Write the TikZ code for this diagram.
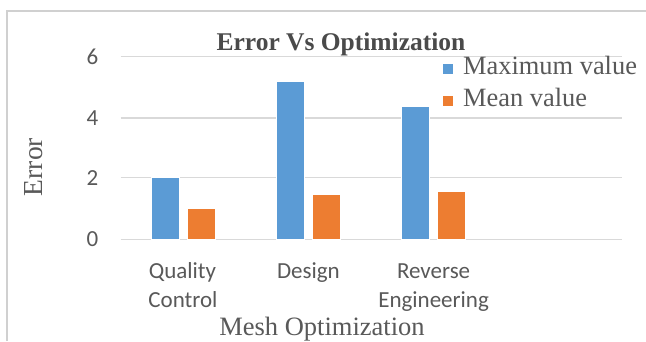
\documentclass[tikz,border=0pt]{standalone}
\usepackage{fontspec}
\setmainfont{Liberation Serif}
\newfontfamily\calib{Carlito}
\definecolor{barblue}{HTML}{5B9BD5}
\definecolor{barorange}{HTML}{ED7D31}
\definecolor{gridgray}{HTML}{D9D9D9}
\definecolor{txtgray}{HTML}{595959}
\definecolor{ttlgray}{HTML}{4A4A4A}
\definecolor{framegray}{HTML}{D0D0D0}
\tikzset{
  gridline/.style={draw=gridgray, line width=1.2pt},
  bar/.style={draw=white, line width=0.5pt},
  tick/.style={inner sep=0pt, text=txtgray, font=\calib\fontsize{23}{26}\selectfont},
  cat/.style={inner sep=0pt, anchor=base, text=txtgray, font=\calib\fontsize{23}{26}\selectfont},
  serif/.style={inner sep=0pt, anchor=base, text=txtgray, font=\fontsize{26.5}{30}\selectfont},
  legkey/.style={minimum size=10pt, inner sep=0pt},
}
\begin{document}
\begin{tikzpicture}[x=1pt, y=-1pt]
\useasboundingbox (0,0) rectangle (646,341);
\fill[white] (0,0) rectangle (646,341);
% frame
\draw[framegray, line width=2pt] (6.5,341) -- (6.5,10.5) -- (646,10.5);
% gridlines
\foreach \v/\yy in {0/239.3, 2/177.8, 4/118, 6/56.7} {
  \draw[gridline] (120.5,\yy) -- (621.5,\yy);
  \node[tick, anchor=east] (t\v) at (98.5,\yy) {\v};
}
% bars
\filldraw[bar, fill=barblue] (151.1,239.3) rectangle (179.1,177.3);
\filldraw[bar, fill=barorange] (187.1,239.3) rectangle (215.1,208.3);
\filldraw[bar, fill=barblue] (276.4,239.3) rectangle (304.4,81);
\filldraw[bar, fill=barorange] (312.4,239.3) rectangle (340.4,194);
\filldraw[bar, fill=barblue] (401.6,239.3) rectangle (429.6,106.7);
\filldraw[bar, fill=barorange] (437.6,239.3) rectangle (465.6,191.7);
% category labels
\node[cat] (c1a) at (182.5,278) {Quality};
\node[cat] (c1b) at (183,307) {Control};
\node[cat] (c2) at (308.4,278) {Design};
\node[cat] (c3a) at (433.6,278) {Reverse};
\node[cat] (c3b) at (433.6,307) {Engineering};
% titles
\node[serif, text=ttlgray, font=\bfseries\fontsize{25.5}{30}\selectfont] (title) at (341,50) {Error Vs Optimization};
\node[serif] (xt) at (322,335) {Mesh Optimization};
\node[inner sep=0pt, text=txtgray, font=\fontsize{27.5}{30}\selectfont, rotate=90] (yt) at (34,167) {Error};
% legend
\node[legkey, fill=barblue] (k1) at (448,69) {};
\node[serif, anchor=base west, font=\fontsize{26.4}{30}\selectfont] (l1) at (463,74) {Maximum value};
\node[legkey, fill=barorange] (k2) at (448,100.5) {};
\node[serif, anchor=base west, font=\fontsize{26.4}{30}\selectfont] (l2) at (463,106) {Mean value};
\end{tikzpicture}
\end{document}
